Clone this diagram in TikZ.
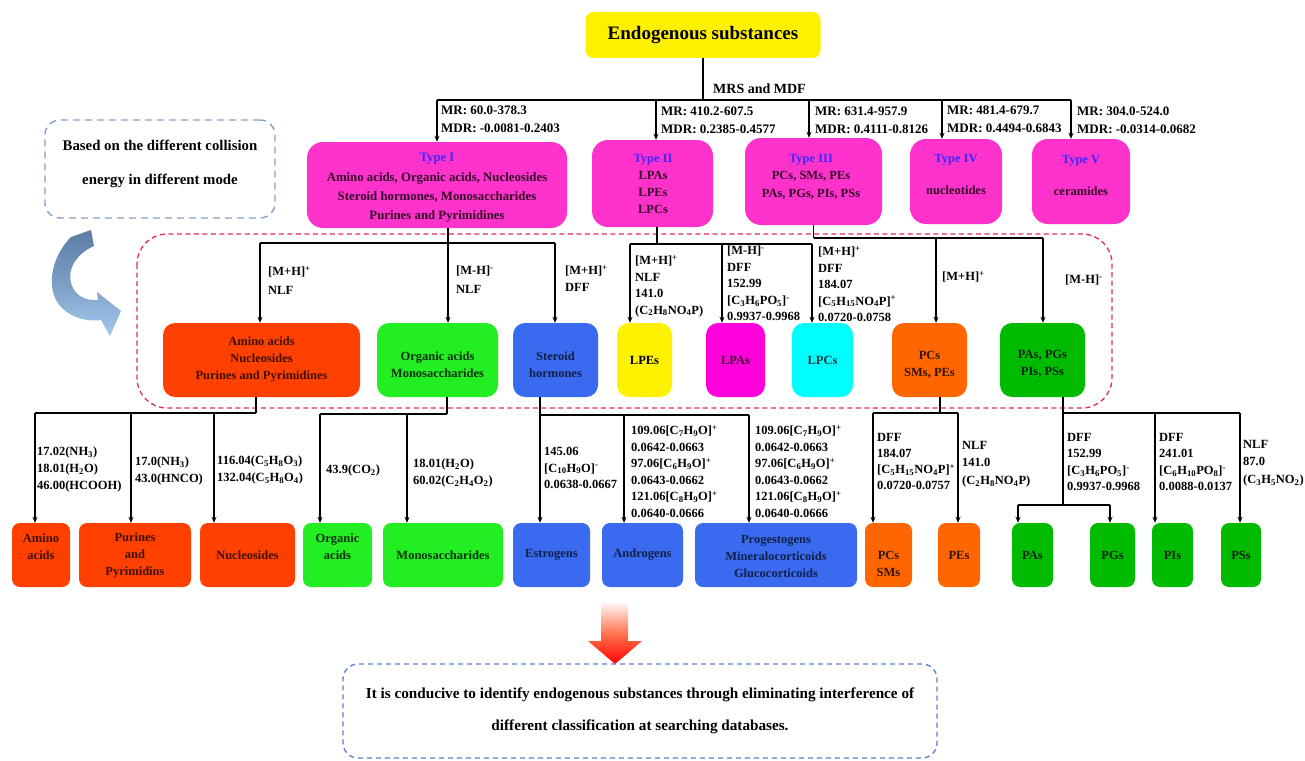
\documentclass[tikz,border=0pt]{standalone}
\usepackage{fontspec}
\setmainfont{Liberation Serif}
\usetikzlibrary{arrows.meta}
\newcommand\sbs[1]{\textsubscript{#1}}
\newcommand\sps[1]{\textsuperscript{#1}}
\definecolor{cyel}{RGB}{255,240,0}
\definecolor{cmag}{RGB}{255,51,204}
\definecolor{ctype}{RGB}{60,40,255}
\definecolor{cred}{RGB}{255,64,0}
\definecolor{cgrn}{RGB}{34,238,34}
\definecolor{cblu}{RGB}{58,106,240}
\definecolor{cmg2}{RGB}{255,0,220}
\definecolor{ccyn}{RGB}{0,255,255}
\definecolor{corg}{RGB}{255,102,0}
\definecolor{cdgr}{RGB}{0,187,0}
\definecolor{cnote}{RGB}{130,160,200}
\definecolor{credd}{RGB}{225,45,85}
\definecolor{cbot}{RGB}{90,125,215}
\definecolor{carrA}{RGB}{92,124,166}
\definecolor{carrB}{RGB}{164,200,236}
\begin{document}
\begin{tikzpicture}[x=1pt,y=-1pt,
  ln/.style={line width=1.2pt,draw=black},
  arr/.style={ln,-{Stealth[length=6pt,width=5pt]}},
  bx/.style={rounded corners=#1,draw=none,inner sep=0pt,align=center,
    font=\bfseries\fontsize{12.5}{17}\selectfont},
  bx/.default=10pt,
  bt/.style={inner sep=0pt,align=center,font=\bfseries\fontsize{12.5}{17}\selectfont},
  lb/.style={font=\bfseries\fontsize{12.5}{16.5}\selectfont,align=left,anchor=north west,inner sep=0pt},
  lbt/.style={font=\bfseries\fontsize{13}{18}\selectfont,align=left,anchor=north west,inner sep=0pt}]
\useasboundingbox (0,0) rectangle (1305,760);
\fill[white] (0,0) rectangle (1305,760);

% ---------- top ----------
\node[bx=8pt,fill=cyel,minimum width=235,minimum height=46,font=\bfseries\fontsize{19}{21}\selectfont] (top) at (703,35) {Endogenous substances};
\node[lbt,anchor=west] (mrs) at (713,89) {\fontsize{14}{16}\selectfont MRS and MDF};

% type boxes
\node[bx=16pt,fill=cmag,minimum width=260,minimum height=86] (t1) at (437,185) {};
\node[bt,text=cmag!20!black,font=\bfseries\fontsize{12.8}{19.3}\selectfont] (t1t) at (437,188)
  {\textcolor{ctype}{Type I}\\Amino acids, Organic acids, Nucleosides\\Steroid hormones, Monosaccharides\\Purines and Pyrimidines};
\node[bx=16pt,fill=cmag,minimum width=121,minimum height=87] (t2) at (652.5,183.5) {};
\node[bt,text=cmag!20!black] (t2t) at (653,184) {\textcolor{ctype}{Type II}\\LPAs\\LPEs\\LPCs};
\node[bx=16pt,fill=cmag,minimum width=137,minimum height=87] (t3) at (813.5,181.5) {};
\node[bt,text=cmag!20!black,font=\bfseries\fontsize{12.5}{17.5}\selectfont] (t3t) at (811,176.5) {\textcolor{ctype}{Type III}\\PCs, SMs, PEs\\PAs, PGs, PIs, PSs};
\node[bx=16pt,fill=cmag,minimum width=92,minimum height=85] (t4) at (956,181.5) {};
\node[bt,text=cmag!20!black] (t4t) at (956,174) {\textcolor{ctype}{Type IV}\\[15pt]nucleotides};
\node[bx=16pt,fill=cmag,minimum width=98,minimum height=85] (t5) at (1081,181.5) {};
\node[bt,text=cmag!20!black] (t5t) at (1081,175) {\textcolor{ctype}{Type V}\\[15pt]ceramides};

\coordinate (j0) at (703,100);
\coordinate (b1) at (437,100);
\coordinate (b2) at (656,100);
\coordinate (b3) at (809,100);
\coordinate (b4) at (942,100);
\coordinate (b5) at (1071,100);
\draw[ln] (top.south) -- (j0);
\draw[ln] (b1) -- (b5);
\draw[arr] (b1) -- (b1 |- t1.north);
\draw[arr] (b2) -- (b2 |- t2.north);
\draw[arr] (b3) -- (b3 |- t3.north);
\draw[arr] (b4) -- (b4 |- t4.north);
\draw[arr] (b5) -- (b5 |- t5.north);

\node[lbt] (l1) at (441,106) {MR: 60.0-378.3\\MDR: -0.0081-0.2403};
\node[lbt] (l2) at (661,107) {MR: 410.2-607.5\\MDR: 0.2385-0.4577};
\node[lbt] (l3) at (815,107) {MR: 631.4-957.9\\MDR: 0.4111-0.8126};
\node[lbt] (l4) at (947,106) {MR: 481.4-679.7\\MDR: 0.4494-0.6843};
\node[lbt] (l5) at (1077,107) {MR: 304.0-524.0\\MDR: -0.0314-0.0682};

% ---------- note + curved arrow ----------
\node[draw=cnote,line width=1.4pt,dash pattern=on 7pt off 5pt,rounded corners=15pt,
  minimum width=230,minimum height=98] (note) at (160,169) {};
\node[bt,font=\bfseries\fontsize{14.8}{34}\selectfont] (notet) at (160,164)
  {Based on the different collision\\energy in different mode};
\shade[top color=carrA,bottom color=carrB,middle color=carrA!55!carrB]
  (71,237) .. controls (50,258) and (45,292) .. (62,308)
  .. controls (72,318) and (88,322) .. (101,320) -- (110,336) -- (121,311) -- (97,292) -- (98,300)
  .. controls (86,301) and (76,296) .. (72,286)
  .. controls (66,270) and (76,254) .. (94,246) -- (91,230) -- cycle;

% ---------- red dashed area ----------
\draw[credd,line width=1.3pt,dash pattern=on 5pt off 3.5pt,rounded corners=30pt] (137,234) rectangle (1112,408);

% middle boxes
\node[bx=12pt,fill=cred,minimum width=197,minimum height=74,text=cred!25!black] (ms1) at (261.5,360) {Amino acids\\Nucleosides\\Purines and Pyrimidines};
\node[bx=12pt,fill=cgrn,minimum width=121,minimum height=74] (ms2) at (437.5,360) {};
\node[bt,text=cgrn!20!black] (ms2t) at (437.5,365) {Organic acids\\Monosaccharides};
\node[bx=12pt,fill=cblu,minimum width=85,minimum height=74] (ms3) at (555.5,360) {};
\node[bt,text=cblu!30!black] (ms3t) at (555.5,365) {Steroid\\hormones};
\node[bx=12pt,fill=yellow,minimum width=55,minimum height=74,text=black] (ms4) at (644.5,360) {LPEs};
\node[bx=12pt,fill=cmg2,minimum width=59,minimum height=74,text=cmg2!25!black] (ms5) at (735.5,360) {LPAs};
\node[bx=12pt,fill=ccyn,minimum width=61,minimum height=74,text=ccyn!25!black] (ms6) at (822.5,360) {LPCs};
\node[bx=12pt,fill=corg,minimum width=75,minimum height=74] (ms7) at (929.5,360) {};
\node[bt,text=corg!20!black] (ms7t) at (929.5,365) {PCs\\SMs, PEs};
\node[bx=12pt,fill=cdgr,minimum width=85,minimum height=74] (ms8) at (1042.5,360) {};
\node[bt,text=cdgr!20!black] (ms8t) at (1042.5,364) {PAs, PGs\\PIs, PSs};

% Type I -> mid
\coordinate (m1) at (448,243);
\coordinate (m1a) at (260,243);
\coordinate (m1c) at (555,243);
\draw[ln] (t1.south -| m1) -- (m1);
\draw[ln] (m1a) -- (m1c);
\draw[arr] (m1a) -- (m1a |- ms1.north);
\draw[arr] (m1) -- (m1 |- ms2.north);
\draw[arr] (m1c) -- (m1c |- ms3.north);
% Type II -> mid
\coordinate (m2) at (657,244);
\coordinate (m2a) at (630,244);
\coordinate (m2b) at (722,244);
\coordinate (m2c) at (812,244);
\draw[ln] (t2.south -| m2) -- (m2);
\draw[ln] (m2a) -- (m2c);
\draw[arr] (m2a) -- (m2a |- ms4.north);
\draw[arr] (m2b) -- (m2b |- ms5.north);
\draw[arr] (m2c) -- (m2c |- ms6.north);
% Type III -> mid
\coordinate (m3) at (813.5,238);
\coordinate (m3a) at (936,238);
\coordinate (m3b) at (1043,238);
\draw[ln] (t3.south) -- (m3);
\draw[ln] (m3) -- (m3b);
\draw[arr] (m3a) -- (m3a |- ms7.north);
\draw[arr] (m3b) -- (m3b |- ms8.north);

\node[lb,font=\bfseries\fontsize{12.5}{19}\selectfont] (k1) at (268,266) {[M+H]\sps{+}\\NLF};
\node[lb,font=\bfseries\fontsize{12.5}{19}\selectfont] (k2) at (456,266) {[M-H]\sps{-}\\NLF};
\node[lb,font=\bfseries\fontsize{12.5}{16.5}\selectfont] (k3) at (565,265) {[M+H]\sps{+}\\DFF};
\node[lb] (k4) at (635,255) {[M+H]\sps{+}\\NLF\\141.0\\(C\sbs{2}H\sbs{8}NO\sbs{4}P)};
\node[lb] (k5) at (727,246) {[M-H]\sps{-}\\DFF\\152.99\\{[}C\sbs{3}H\sbs{6}PO\sbs{5}]\sps{-}\\0.9937-0.9968};
\node[lb] (k6) at (818,246) {[M+H]\sps{+}\\DFF\\184.07\\{[}C\sbs{5}H\sbs{15}NO\sbs{4}P]\sps{+}\\0.0720-0.0758};
\node[lb] (k7) at (942,271) {[M+H]\sps{+}};
\node[lb] (k8) at (1065,275) {[M-H]\sps{-}};

% ---------- bottom boxes ----------
\node[bx=8pt,fill=cred,minimum width=58,minimum height=64] (n1) at (41,555) {};
\node[bt,text=cred!25!black] (n1t) at (41,547) {Amino\\acids};
\node[bx=8pt,fill=cred,minimum width=112,minimum height=64] (n2) at (135,555) {};
\node[bt,text=cred!25!black] (n2t) at (135,556) {Purines\\and\\Pyrimidins};
\node[bx=8pt,fill=cred,minimum width=95,minimum height=64,text=cred!25!black] (n3) at (247.5,555) {Nucleosides};
\node[bx=8pt,fill=cgrn,minimum width=69,minimum height=64] (n4) at (337.5,555) {};
\node[bt,text=cgrn!20!black] (n4t) at (337.5,547) {Organic\\acids};
\node[bx=8pt,fill=cgrn,minimum width=120,minimum height=64,text=cgrn!20!black] (n5) at (443,555) {Monosaccharides};
\node[bx=8pt,fill=cblu,minimum width=77,minimum height=64,text=cblu!30!black] (n6) at (551.5,555) {Estrogens};
\node[bx=8pt,fill=cblu,minimum width=81,minimum height=64,text=cblu!30!black] (n7) at (642.5,555) {Androgens};
\node[bx=8pt,fill=cblu,minimum width=162,minimum height=64] (n8) at (776,555) {};
\node[bt,text=cblu!30!black] (n8t) at (776,556) {Progestogens\\Mineralocorticoids\\Glucocorticoids};
\node[bx=8pt,fill=corg,minimum width=47,minimum height=64] (n9) at (888.5,555) {};
\node[bt,text=corg!20!black] (n9t) at (888.5,564) {PCs\\SMs};
\node[bx=8pt,fill=corg,minimum width=42,minimum height=64,text=corg!20!black] (n10) at (959,555) {PEs};
\node[bx=8pt,fill=cdgr,minimum width=41,minimum height=64,text=cdgr!20!black] (n11) at (1032.5,555) {PAs};
\node[bx=8pt,fill=cdgr,minimum width=45,minimum height=64,text=cdgr!20!black] (n12) at (1112.5,555) {PGs};
\node[bx=8pt,fill=cdgr,minimum width=41,minimum height=64,text=cdgr!20!black] (n13) at (1172.5,555) {PIs};
\node[bx=8pt,fill=cdgr,minimum width=40,minimum height=64,text=cdgr!20!black] (n14) at (1241,555) {PSs};

% ms1 -> bottom
\coordinate (q1) at (256,413);
\coordinate (q1a) at (35,413);
\coordinate (q1b) at (131,413);
\coordinate (q1c) at (214,413);
\draw[ln] (ms1.south -| q1) -- (q1);
\draw[ln] (q1a) -- (q1);
\draw[arr] (q1a) -- (q1a |- n1.north);
\draw[arr] (q1b) -- (q1b |- n2.north);
\draw[arr] (q1c) -- (q1c |- n3.north);
% ms2 -> bottom
\coordinate (q2) at (447,414);
\coordinate (q2a) at (320,414);
\coordinate (q2b) at (407,414);
\draw[ln] (ms2.south -| q2) -- (q2);
\draw[ln] (q2a) -- (q2);
\draw[arr] (q2a) -- (q2a |- n4.north);
\draw[arr] (q2b) -- (q2b |- n5.north);
% ms3 -> bottom
\coordinate (q3) at (540,415);
\coordinate (q3b) at (624,415);
\coordinate (q3c) at (749,415);
\draw[arr] (ms3.south -| q3) -- (q3 |- n6.north);
\draw[ln] (q3) -- (q3c);
\draw[arr] (q3b) -- (q3b |- n7.north);
\draw[arr] (q3c) -- (q3c |- n8.north);
% ms7 -> bottom
\coordinate (q7) at (940,413);
\coordinate (q7a) at (873,413);
\coordinate (q7b) at (958,413);
\draw[ln] (ms7.south -| q7) -- (q7);
\draw[ln] (q7a) -- (q7b);
\draw[arr] (q7a) -- (q7a |- n9.north);
\draw[arr] (q7b) -- (q7b |- n10.north);
% ms8 -> bottom
\coordinate (q8) at (1063,413);
\coordinate (q8c) at (1155,413);
\coordinate (q8d) at (1240,413);
\coordinate (q8m) at (1063,505);
\coordinate (q8a) at (1018,505);
\coordinate (q8b) at (1110,505);
\draw[ln] (ms8.south -| q8) -- (q8m);
\draw[ln] (q8) -- (q8d);
\draw[arr] (q8c) -- (q8c |- n13.north);
\draw[arr] (q8d) -- (q8d |- n14.north);
\draw[ln] (q8a) -- (q8b);
\draw[arr] (q8a) -- (q8a |- n11.north);
\draw[arr] (q8b) -- (q8b |- n12.north);

\node[lb,font=\bfseries\fontsize{12.5}{17}\selectfont] (p1) at (37,447) {17.02(NH\sbs{3})\\18.01(H\sbs{2}O)\\46.00(HCOOH)};
\node[lb,font=\bfseries\fontsize{12.5}{17}\selectfont] (p2) at (135,457) {17.0(NH\sbs{3})\\43.0(HNCO)};
\node[lb,font=\bfseries\fontsize{12.5}{17}\selectfont] (p3) at (217,456) {116.04(C\sbs{5}H\sbs{8}O\sbs{3})\\132.04(C\sbs{5}H\sbs{8}O\sbs{4})};
\node[lb] (p4) at (326,465) {43.9(CO\sbs{2})};
\node[lb,font=\bfseries\fontsize{12.5}{17}\selectfont] (p5) at (413,459) {18.01(H\sbs{2}O)\\60.02(C\sbs{2}H\sbs{4}O\sbs{2})};
\node[lb] (p6) at (544,447) {145.06\\{[}C\sbs{10}H\sbs{9}O]\sps{-}\\0.0638-0.0667};
\node[lb] (p7) at (631,425) {109.06[C\sbs{7}H\sbs{9}O]\sps{+}\\0.0642-0.0663\\97.06[C\sbs{6}H\sbs{9}O]\sps{+}\\0.0643-0.0662\\121.06[C\sbs{8}H\sbs{9}O]\sps{+}\\0.0640-0.0666};
\node[lb] (p8) at (755,425) {109.06[C\sbs{7}H\sbs{9}O]\sps{+}\\0.0642-0.0663\\97.06[C\sbs{6}H\sbs{9}O]\sps{+}\\0.0643-0.0662\\121.06[C\sbs{8}H\sbs{9}O]\sps{+}\\0.0640-0.0666};
\node[lb,font=\bfseries\fontsize{12.5}{16}\selectfont] (p9) at (877,433) {DFF\\184.07\\{[}C\sbs{5}H\sbs{15}NO\sbs{4}P]\sps{+}\\0.0720-0.0757};
\node[lb,font=\bfseries\fontsize{12.5}{17.5}\selectfont] (p10) at (962,441) {NLF\\141.0\\(C\sbs{2}H\sbs{8}NO\sbs{4}P)};
\node[lb] (p11) at (1067,433) {DFF\\152.99\\{[}C\sbs{3}H\sbs{6}PO\sbs{5}]\sps{-}\\0.9937-0.9968};
\node[lb] (p12) at (1159,433) {DFF\\241.01\\{[}C\sbs{6}H\sbs{10}PO\sbs{8}]\sps{-}\\0.0088-0.0137};
\node[lb,font=\bfseries\fontsize{12.5}{17.5}\selectfont] (p13) at (1243,440) {NLF\\87.0\\(C\sbs{3}H\sbs{5}NO\sbs{2})};

% ---------- bottom arrow + conclusion ----------
\shade[top color=red!4!white,bottom color=red,middle color=red!55!orange!70!white]
  (601,603) -- (628,603) -- (628,641) -- (642,641) -- (615,664) -- (588,641) -- (601,641) -- cycle;
\node[draw=cbot,line width=1.3pt,dash pattern=on 5pt off 4pt,rounded corners=15pt,
  minimum width=594,minimum height=94] (concl) at (640,711) {};
\node[bt,font=\bfseries\fontsize{15.2}{32}\selectfont] (conclt) at (640,711)
  {It is conducive to identify endogenous substances through eliminating interference of\\different classification at searching databases.};
\end{tikzpicture}
\end{document}
